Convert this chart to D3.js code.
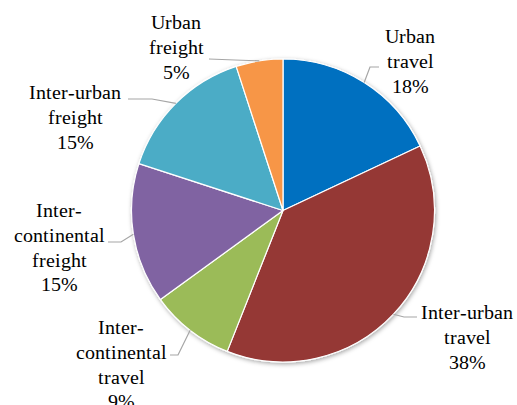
<!DOCTYPE html>
<html>
<head>
<meta charset="utf-8">
<script src="https://cdn.jsdelivr.net/npm/d3@7/dist/d3.min.js"></script>
<style>
  @font-face { font-family: "RefSerif"; src: local("Liberation Serif"), local("LiberationSerif"), local("LiberationSerif-Regular"), local("Times New Roman"), local("Tinos"), local("Nimbus Roman"), local("NimbusRoman-Regular"), local("DejaVu Serif"), local("DejaVuSerif"), local("Noto Serif"), local("FreeSerif"); }
  html, body { margin: 0; padding: 0; background: #ffffff; }
  svg { display: block; }
  .lbl { font-family: "RefSerif", "Liberation Serif", "Times New Roman", Times, "Tinos", "Nimbus Roman", "DejaVu Serif", "Noto Serif", serif; }
</style>
</head>
<body>
<svg id="chart" width="517" height="405"></svg>
<script>
// ---- data ----
const categories = ["Urban travel", "Inter-urban travel", "Inter-continental travel",
                    "Inter-continental freight", "Inter-urban freight", "Urban freight"];
const shares = [18, 38, 9, 15, 15, 5];
const labelLines = [["Urban", "travel"], ["Inter-urban", "travel"], ["Inter-", "continental", "travel"],
                    ["Inter-", "continental", "freight"], ["Inter-urban", "freight"], ["Urban", "freight"]];
const colors = ["#0070C0", "#953735", "#9BBB59", "#8064A2", "#4BACC6", "#F79646"];

// ---- layout (label anchors: text centre x, first baseline y; elbow & end of leader line) ----
const labelLayout = [
  { x: 410, y: 43,  elbow: [370, 67],  end: [379, 67] },
  { x: 467, y: 319, elbow: [404, 317], end: [417, 317] },
  { x: 121, y: 334, elbow: [178, 355], end: [170, 355] },
  { x: 59,  y: 217, elbow: [121, 242], end: [108, 242] },
  { x: 75,  y: 99,  elbow: [152, 99],  end: [128, 99] },
  { x: 176, y: 29,  elbow: [235, 60],  end: [209, 59] }
];

const W = 517, H = 405;
const cx = 283, cy = 210.5, R = 151.5;
const svg = d3.select("#chart");

const defs = svg.append("defs");
const f = defs.append("filter").attr("id", "shadow")
  .attr("x", "-10%").attr("y", "-10%").attr("width", "120%").attr("height", "120%");
f.append("feDropShadow").attr("dx", 1).attr("dy", 1.5).attr("stdDeviation", 2.2)
  .attr("flood-color", "#000").attr("flood-opacity", 0.35);

const data = categories.map((c, i) => ({ cat: c, value: shares[i], lines: labelLines[i], color: colors[i], lay: labelLayout[i] }));

const pie = d3.pie().value(d => d.value).sort(null);
const arcs = pie(data);
const arc = d3.arc().innerRadius(0).outerRadius(R);

const g = svg.append("g").attr("transform", `translate(${cx},${cy})`);
g.append("g").attr("filter", "url(#shadow)")
  .selectAll("path").data(arcs).join("path")
  .attr("d", arc)
  .attr("fill", d => d.data.color)
  .attr("stroke", "#ffffff").attr("stroke-width", 1.2).attr("stroke-linejoin", "round");

// leader lines
svg.append("g").selectAll("polyline").data(arcs).join("polyline")
  .attr("fill", "none").attr("stroke", "#A6A6A6").attr("stroke-width", 1.2)
  .attr("points", d => {
    const a = (d.startAngle + d.endAngle) / 2;
    const sx = cx + R * Math.sin(a), sy = cy - R * Math.cos(a);
    const L = d.data.lay;
    return [[sx, sy], L.elbow, L.end].map(p => p.join(",")).join(" ");
  });

// labels
const lh = 24.8;
const labels = svg.append("g").attr("class", "lbl")
  .attr("font-size", 19.5).attr("fill", "#000").attr("text-anchor", "middle");
labels.selectAll("text").data(arcs).join("text")
  .attr("x", d => d.data.lay.x).attr("y", d => d.data.lay.y)
  .each(function(d) {
    const t = d3.select(this);
    const lines = d.data.lines.concat([d.data.value + "%"]);
    lines.forEach((ln, i) => {
      t.append("tspan").attr("x", d.data.lay.x).attr("y", d.data.lay.y + i * lh).text(ln);
    });
  });
</script>
</body>
</html>
